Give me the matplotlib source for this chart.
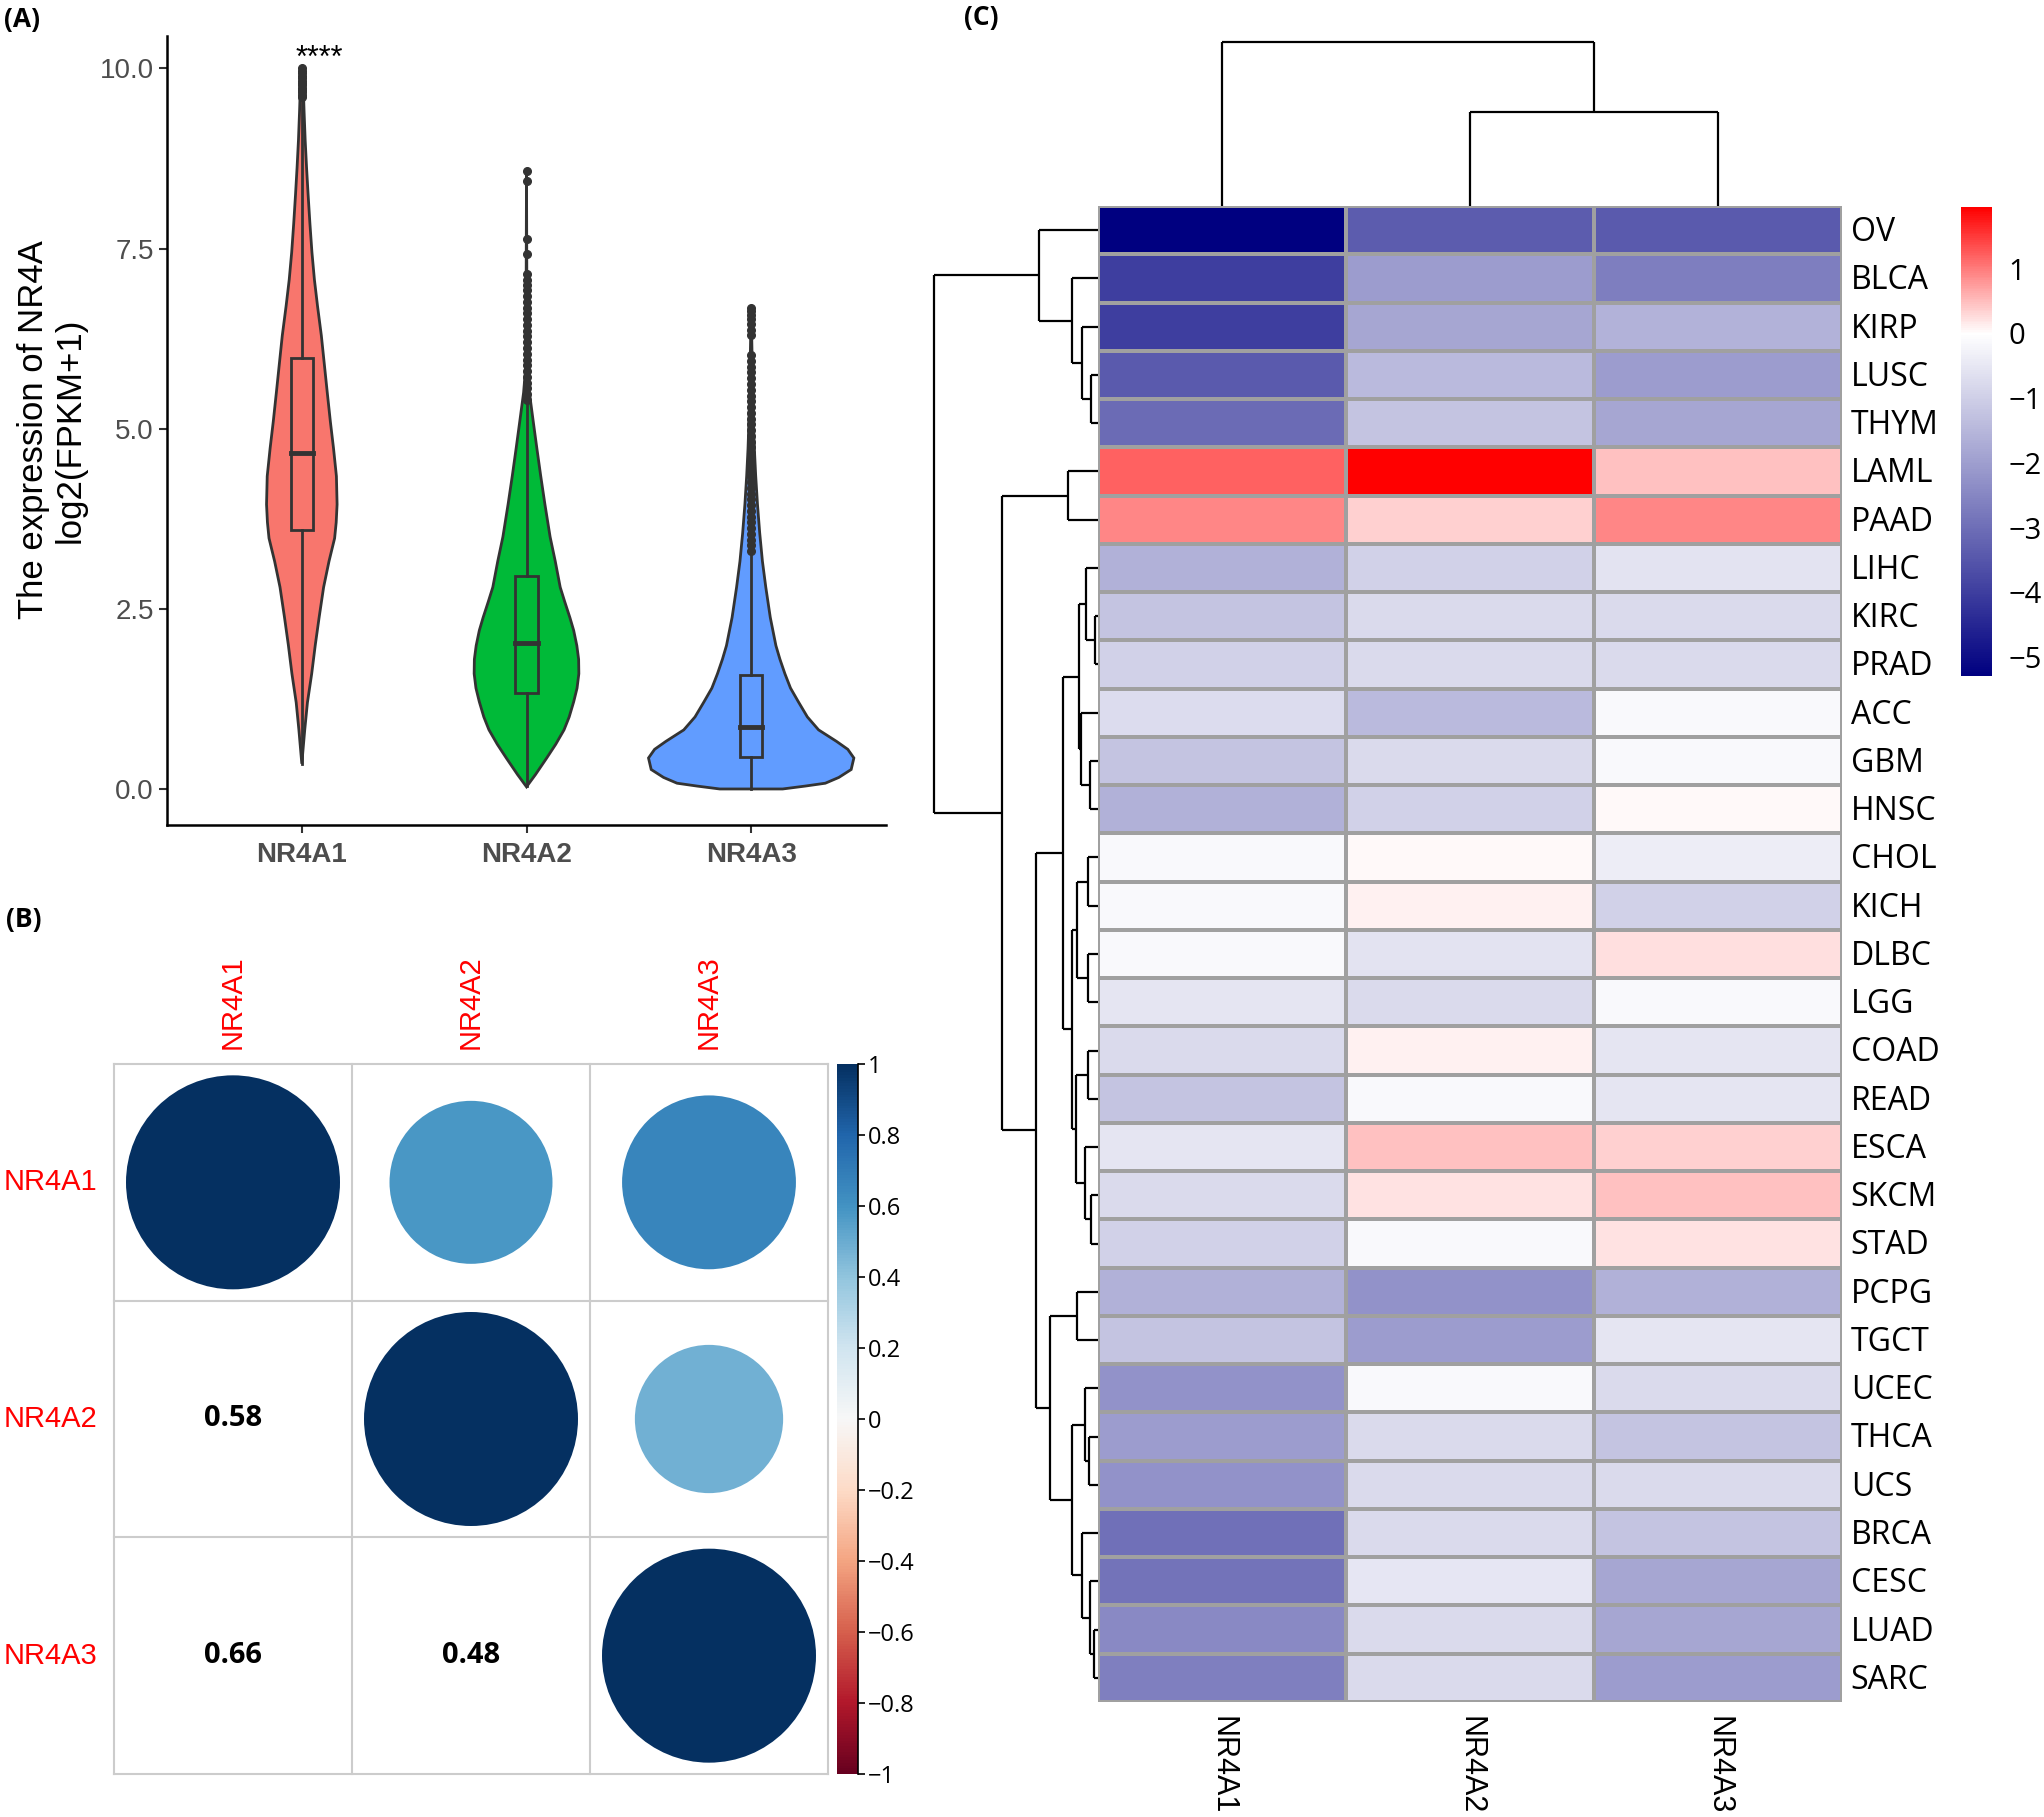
import numpy as np
import matplotlib
matplotlib.use('Agg')
import matplotlib.pyplot as plt
import matplotlib.colors as mcolors
from matplotlib.patches import Rectangle, Ellipse

# --- dane ---
genes = ['NR4A1', 'NR4A2', 'NR4A3']
violin_colors = ['#F8766D', '#00BA38', '#619CFF']

# obrys skrzypiec: poziom (log2 FPKM+1) i połowa szerokości
nr4a1_y = [0.35, 0.82, 1.2, 1.6, 2.0, 2.38, 2.8, 3.16, 3.48, 3.7, 3.95, 4.34, 4.73, 5.1,
           5.51, 5.9, 6.29, 6.7, 7.07, 7.45, 7.85, 8.25, 8.63, 9.0, 9.41, 9.7, 10.0]
nr4a1_w = [0.0, 0.013, 0.025, 0.044, 0.06, 0.077, 0.097, 0.121, 0.146, 0.153, 0.157, 0.154,
           0.141, 0.127, 0.113, 0.10, 0.087, 0.07, 0.056, 0.045, 0.036, 0.028, 0.021, 0.015,
           0.010, 0.007, 0.0]
nr4a2_y = [0.03, 0.2, 0.43, 0.62, 0.82, 1.0, 1.21, 1.4, 1.6, 1.8, 1.99, 2.2, 2.38, 2.6, 2.8,
           3.16, 3.5, 3.95, 4.35, 4.73, 5.1, 5.5, 5.8, 6.5, 8.6]
nr4a2_w = [0.0, 0.04, 0.09, 0.13, 0.167, 0.19, 0.21, 0.225, 0.233, 0.232, 0.224, 0.21, 0.193,
           0.17, 0.15, 0.128, 0.105, 0.082, 0.063, 0.046, 0.03, 0.013, 0.005, 0.002, 0.0]
nr4a3_y = [0.0, 0.04, 0.08, 0.16, 0.27, 0.43, 0.55, 0.66, 0.82, 1.0, 1.21, 1.4, 1.6, 1.8, 1.99,
           2.38, 2.8, 3.16, 3.55, 3.95, 4.35, 4.73, 5.1, 5.5, 6.0, 6.68]
nr4a3_w = [0.14, 0.24, 0.33, 0.39, 0.445, 0.457, 0.43, 0.38, 0.30, 0.25, 0.21, 0.175, 0.15,
           0.128, 0.11, 0.085, 0.065, 0.05, 0.038, 0.028, 0.02, 0.014, 0.01, 0.007, 0.004, 0.0]

box_q1 = [3.59, 1.33, 0.45]
box_med = [4.66, 2.02, 0.86]
box_q3 = [5.98, 2.95, 1.58]
whisk_lo = [0.35, 0.04, 0.0]
whisk_hi = [9.57, 5.38, 3.27]
nr4a1_out = [9.6, 9.63, 9.67, 9.7, 9.73, 9.77, 9.8, 9.83, 9.87, 9.9, 9.93, 9.97, 10.0]
nr4a2_out = [5.4, 5.48, 5.56, 5.64, 5.72, 5.8, 5.88, 5.96, 6.04, 6.12, 6.2, 6.28, 6.36, 6.44,
             6.52, 6.6, 6.68, 6.76, 6.84, 6.92, 7.0, 7.07, 7.15, 7.42, 7.63, 8.44, 8.57]
nr4a3_out = [3.3, 3.38, 3.46, 3.54, 3.62, 3.7, 3.78, 3.86, 3.94, 4.02, 4.1, 4.18, 4.26, 4.34,
             4.42, 4.5, 4.58, 4.66, 4.74, 4.82, 4.9, 4.98, 5.06, 5.14, 5.22, 5.3, 5.38, 5.46,
             5.54, 5.62, 5.7, 5.78, 5.86, 5.94, 6.02, 6.3, 6.37, 6.45, 6.52, 6.58, 6.63, 6.68]

corr_values = [[1.0, 0.58, 0.66],
               [0.58, 1.0, 0.48],
               [0.66, 0.48, 1.0]]
corr_ticks = [1, 0.8, 0.6, 0.4, 0.2, 0, -0.2, -0.4, -0.6, -0.8, -1]

cancers = ['OV', 'BLCA', 'KIRP', 'LUSC', 'THYM', 'LAML', 'PAAD', 'LIHC', 'KIRC', 'PRAD',
           'ACC', 'GBM', 'HNSC', 'CHOL', 'KICH', 'DLBC', 'LGG', 'COAD', 'READ', 'ESCA',
           'SKCM', 'STAD', 'PCPG', 'TGCT', 'UCEC', 'THCA', 'UCS', 'BRCA', 'CESC', 'LUAD', 'SARC']
hm_nr4a1 = [-5.28, -4.0, -4.0, -3.4, -3.06, 1.21, 0.91, -1.64, -1.22, -0.96,
            -0.72, -1.22, -1.64, -0.14, -0.14, -0.14, -0.56, -0.77, -1.22, -0.56,
            -0.77, -0.96, -1.64, -1.22, -2.25, -2.05, -2.25, -2.95, -2.9, -2.45, -2.65]
hm_nr4a2 = [-3.38, -2.05, -1.85, -1.42, -1.23, 1.94, 0.36, -0.96, -0.77, -0.77,
            -1.42, -0.77, -0.96, 0.04, 0.11, -0.58, -0.77, 0.11, -0.14, 0.46,
            0.2, -0.14, -2.25, -2.05, -0.14, -0.77, -0.77, -0.77, -0.52, -0.77, -0.77]
hm_nr4a3 = [-3.4, -2.68, -1.6, -2.05, -1.85, 0.46, 0.93, -0.58, -0.77, -0.77,
            -0.14, -0.14, 0.04, -0.39, -0.96, 0.23, -0.14, -0.56, -0.56, 0.36,
            0.46, 0.2, -1.64, -0.56, -0.77, -1.22, -0.77, -1.22, -1.85, -1.85, -2.05]
hm_ticks = [1, 0, -1, -2, -3, -4, -5]
hm_min, hm_max = -5.29, 1.95

# dendrogramy: (wysokość, lewy, prawy)
row_tree = (163.7,
            (59.4, 'OV', (26.3, 'BLCA', (15.7, 'KIRP', (6.7, 'LUSC', 'THYM')))),
            (95.7,
             (30.3, 'LAML', 'PAAD'),
             (62.3,
              (35.3,
               (19.0, (11.7, 'LIHC', (3.0, 'KIRC', 'PRAD')),
                (17.0, 'ACC', (8.0, 'GBM', 'HNSC'))),
               (26.3,
                (21.3, (9.7, 'CHOL', 'KICH'), (10.3, 'DLBC', 'LGG')),
                (22.3, (9.7, 'COAD', 'READ'), (13.0, 'ESCA', (7.3, 'SKCM', 'STAD'))))),
              (48.0,
               (21.3, 'PCPG', 'TGCT'),
               (25.7,
                (13.0, 'UCEC', (9.0, 'THCA', 'UCS')),
                (15.7, 'BRCA', (8.0, 'CESC', (3.7, 'LUAD', 'SARC'))))))))
col_tree = (163.7, 'NR4A1', (94.3, 'NR4A2', 'NR4A3'))

# --- rysunek ---
W, H = 2044, 1817
fig = plt.figure(figsize=(W / 100, H / 100), dpi=100)
plt.rcParams['font.family'] = ['Liberation Sans', 'DejaVu Sans']
OPEN = ['Open Sans', 'DejaVu Sans']


def px_axes(l, t, r, b):
    return fig.add_axes([l / W, 1 - b / H, (r - l) / W, (b - t) / H])


# (A) skrzypce
ax = px_axes(167, 36, 886, 825)
dark = '#333333'
profiles = [(nr4a1_y, nr4a1_w), (nr4a2_y, nr4a2_w), (nr4a3_y, nr4a3_w)]
outs = [nr4a1_out, nr4a2_out, nr4a3_out]
for i, (ys, ws) in enumerate(profiles):
    c = i + 1
    ys = np.array(ys); ws = np.array(ws)
    xs = np.concatenate([c - ws, (c + ws)[::-1]])
    yy = np.concatenate([ys, ys[::-1]])
    ax.fill(xs, yy, facecolor=violin_colors[i], edgecolor=dark, lw=2, zorder=2)
    ax.plot([c, c], [whisk_lo[i], box_q1[i]], color=dark, lw=2, zorder=3)
    ax.plot([c, c], [box_q3[i], whisk_hi[i]], color=dark, lw=2, zorder=3)
    ax.add_patch(Rectangle((c - 0.05, box_q1[i]), 0.1, box_q3[i] - box_q1[i],
                           fill=False, edgecolor=dark, lw=2, zorder=3))
    ax.plot([c - 0.05, c + 0.05], [box_med[i]] * 2, color=dark, lw=3.5, zorder=4)
    ax.plot([c] * len(outs[i]), outs[i], 'o', color=dark, ms=5.5, zorder=4)
ax.text(1.08, 9.92, '****', ha='center', va='bottom', fontsize=22)
ax.set_xlim(0.4, 3.6)
ax.set_ylim(-0.50, 10.45)
ax.set_xticks([1, 2, 3])
ax.set_xticklabels(genes, fontsize=20, fontweight='bold', color='#4D4D4D')
ax.set_yticks([0, 2.5, 5, 7.5, 10])
ax.set_yticklabels(['0.0', '2.5', '5.0', '7.5', '10.0'], fontsize=20, color='#4D4D4D')
ax.tick_params(length=6, width=1.5, color=dark)
ax.tick_params(axis='x', pad=6)
for s in ['top', 'right']:
    ax.spines[s].set_visible(False)
for s in ['left', 'bottom']:
    ax.spines[s].set_linewidth(1.8)
fig.text(52 / W, 1 - 430 / H, 'The expression of NR4A\nlog2(FPKM+1)', rotation=90,
         ha='center', va='center', fontsize=25, multialignment='center', linespacing=1.12)

# (B) korelacje
B_TOP, B_BOT = 1064, 1774
axb = px_axes(114, B_TOP, 828, B_BOT)
axb.set_xlim(0, 3); axb.set_ylim(3, 0); axb.axis('off')
for k in range(4):
    axb.plot([k, k], [0, 3], color='#CCCCCC', lw=1.5, clip_on=False)
    axb.plot([0, 3], [k, k], color='#CCCCCC', lw=1.5, clip_on=False)
cmap_b = plt.get_cmap('RdBu')
norm_b = mcolors.Normalize(-1, 1)
cell_w = (828 - 114) / 3
cell_h = (B_BOT - B_TOP) / 3
for i in range(3):
    for j in range(3):
        r = corr_values[i][j]
        if j >= i:
            s = np.sqrt(abs(r))
            axb.add_patch(Ellipse((j + 0.5, i + 0.5), 214 / cell_w * s, 214 / cell_h * s,
                                  facecolor=cmap_b(norm_b(r)), edgecolor='none'))
        else:
            axb.text(j + 0.5, i + 0.5, f'{r:.2f}', ha='center', va='center', fontsize=21,
                     fontweight='bold', family=OPEN)
for i, g in enumerate(genes):
    axb.text(-0.07, i + 0.5, g, ha='right', va='center', color='red', fontsize=21)
    axb.text(i + 0.5, -0.063, g, ha='center', va='bottom', rotation=90, color='red', fontsize=21)
caxb = px_axes(837, B_TOP, 858, B_BOT)
sm = plt.cm.ScalarMappable(norm=norm_b, cmap=cmap_b)
cbb = fig.colorbar(sm, cax=caxb, ticks=corr_ticks)
cbb.outline.set_visible(False)
cbb.ax.set_yticklabels([f'{t:g}'.replace('-', '\u2212') for t in corr_ticks],
                       fontsize=17, family=OPEN)
cbb.ax.tick_params(length=5, width=1.2, color='black', pad=2)
caxb.plot([1, 1], [0, 1], transform=caxb.transAxes, color='black', lw=1.2, clip_on=False)

# (C) heatmapa
data = np.array([hm_nr4a1, hm_nr4a2, hm_nr4a3]).T
white_pos = -hm_min / (hm_max - hm_min)
cmap_c = mcolors.LinearSegmentedColormap.from_list(
    'nwr', [(0, 'navy'), (white_pos, 'white'), (1, 'red')])
norm_c = mcolors.Normalize(vmin=hm_min, vmax=hm_max)
axh = px_axes(1098, 206, 1842, 1702)
mesh = axh.pcolormesh(np.arange(4), np.arange(len(cancers) + 1), data, cmap=cmap_c,
                      norm=norm_c, edgecolors='#A0A0A0', linewidth=1.5)
axh.set_xlim(0, 3); axh.set_ylim(len(cancers), 0); axh.axis('off')
for i, name in enumerate(cancers):
    axh.text(3.035, i + 0.55, name, ha='left', va='center', fontsize=23, family=OPEN)
for j, g in enumerate(genes):
    axh.text(j + 0.5, len(cancers) + 0.28, g, ha='center', va='top', rotation=270, fontsize=22)


def draw_tree(ax, node, leaves, horizontal):
    if isinstance(node, str):
        return leaves.index(node) + 0.5, 0.0
    h, left, right = node
    pl, hl = draw_tree(ax, left, leaves, horizontal)
    pr, hr = draw_tree(ax, right, leaves, horizontal)
    segs = [([hl, h], [pl, pl]), ([hr, h], [pr, pr]), ([h, h], [pl, pr])]
    for a, b in segs:
        if horizontal:
            ax.plot(a, b, color='black', lw=1.6, clip_on=False, solid_capstyle='butt')
        else:
            ax.plot(b, a, color='black', lw=1.6, clip_on=False, solid_capstyle='butt')
    return (pl + pr) / 2, h


axr = px_axes(930, 206, 1098, 1702)
axr.set_xlim(168, 0); axr.set_ylim(len(cancers), 0); axr.axis('off')
draw_tree(axr, row_tree, cancers, True)
axt = px_axes(1098, 36, 1842, 206)
axt.set_xlim(0, 3); axt.set_ylim(0, 170); axt.axis('off')
draw_tree(axt, col_tree, genes, False)

caxc = px_axes(1961, 207, 1992, 676)
cbc = fig.colorbar(mesh, cax=caxc, ticks=hm_ticks)
cbc.outline.set_visible(False)
cbc.ax.set_yticklabels([str(t).replace('-', '\u2212') for t in hm_ticks], fontsize=21,
                       family=OPEN)
cbc.ax.tick_params(length=0, pad=12)

# etykiety paneli
for lab, x, y in [('(A)', 4, 20), ('(B)', 6, 919), ('(C)', 964, 18)]:
    fig.text(x / W, 1 - y / H, lab, ha='left', va='center', fontsize=19, fontweight='bold',
             family=OPEN)

fig.savefig('out.png', dpi=100)
